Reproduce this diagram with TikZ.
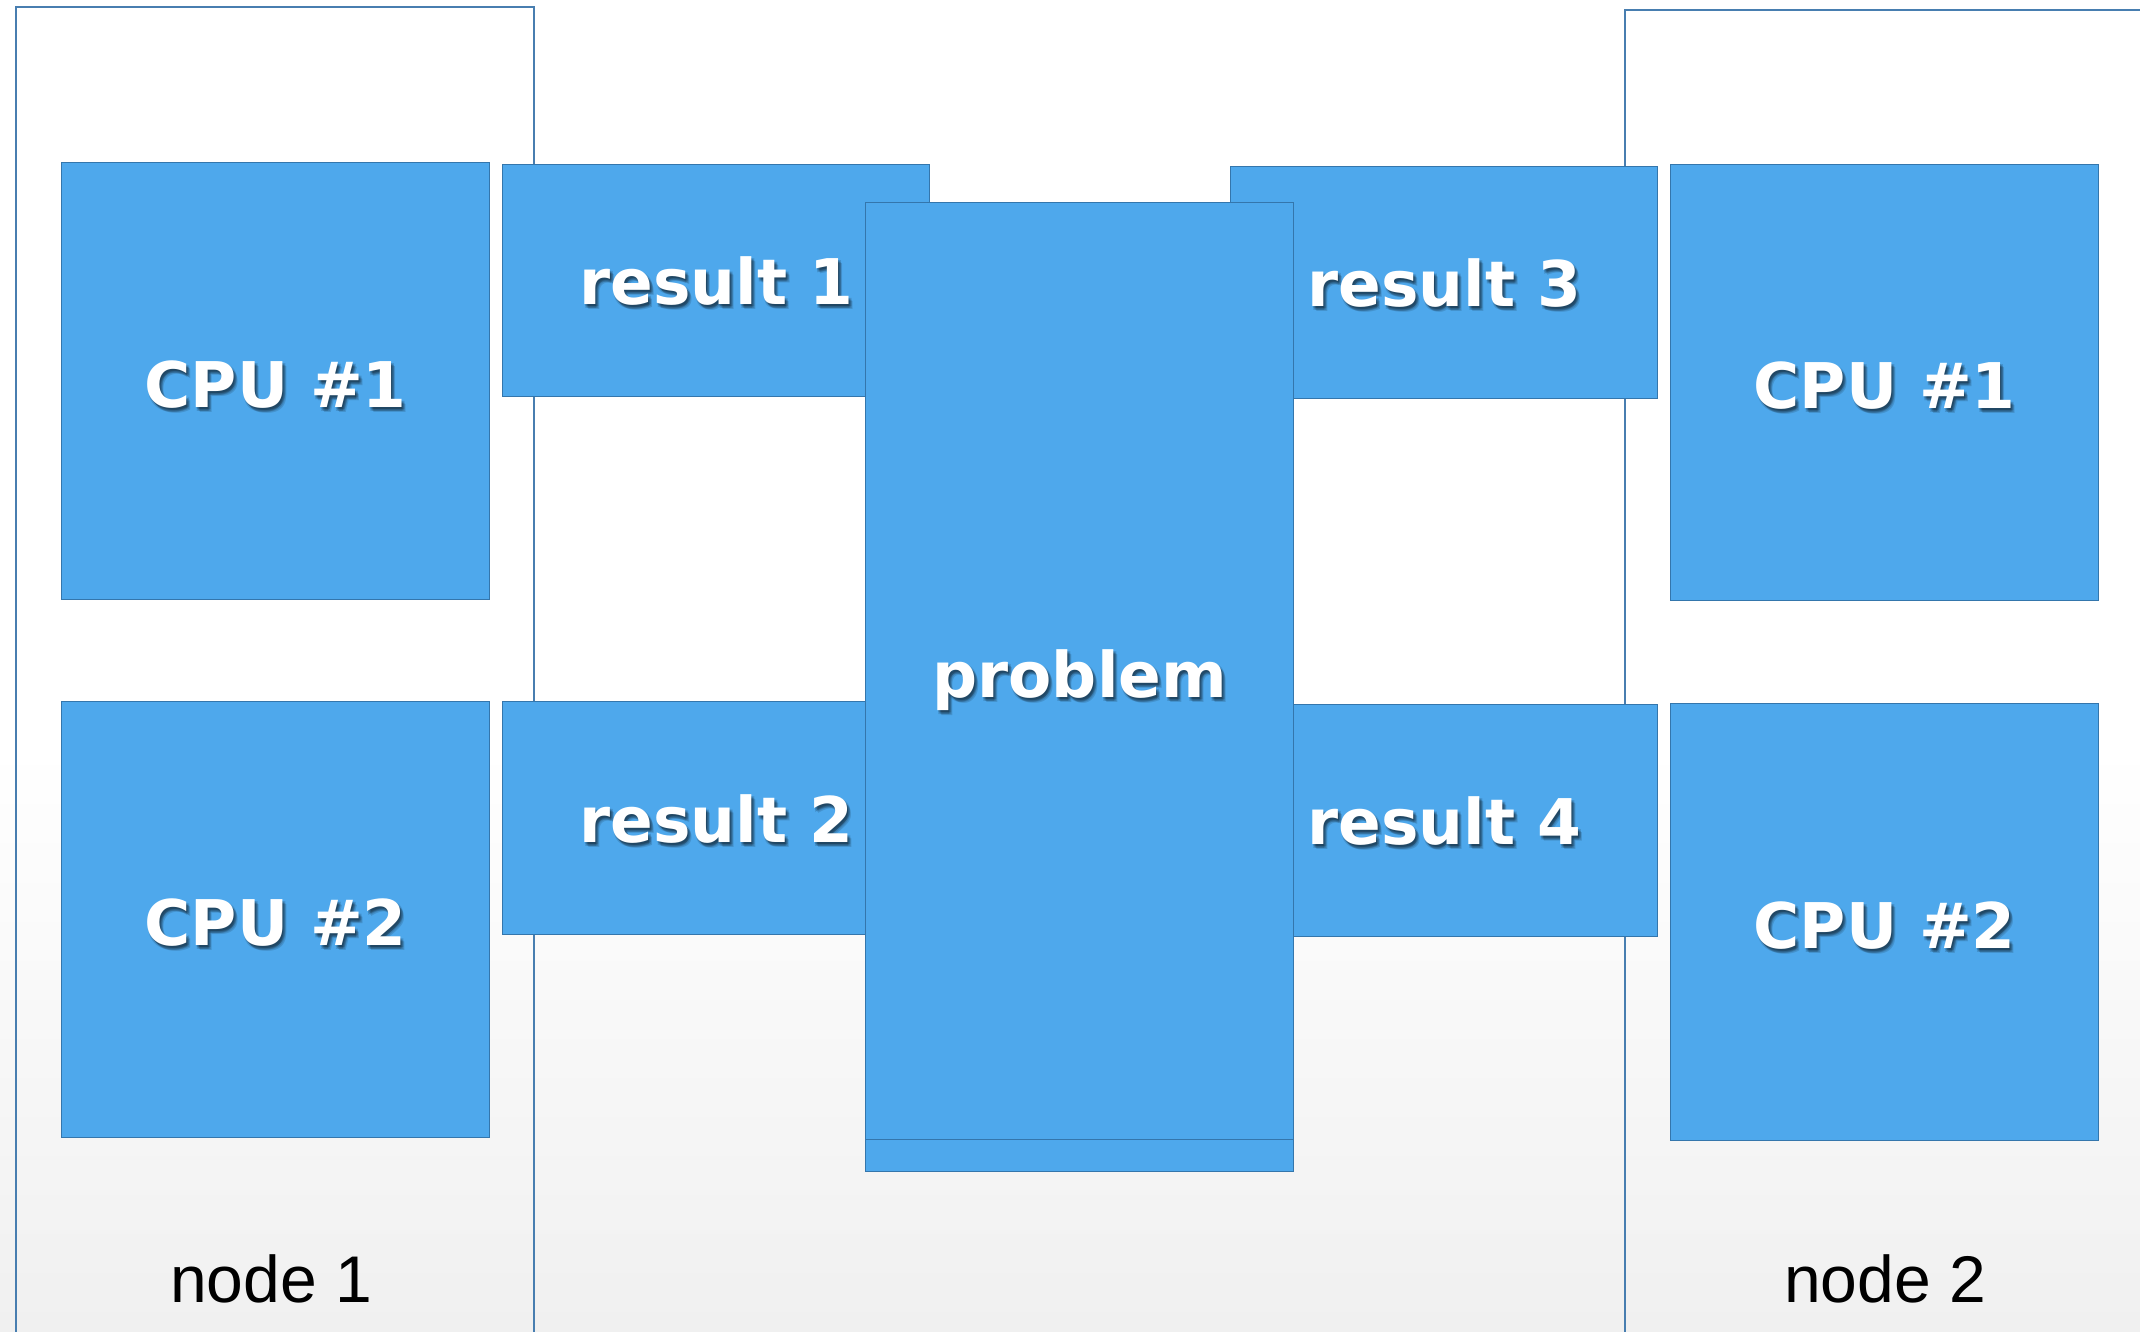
\documentclass[tikz,border=0pt]{standalone}
\usepackage{fontspec}
\setmainfont{DejaVu Sans}
\newfontfamily\lightfont{Liberation Sans}
\definecolor{boxblue}{RGB}{78,168,236}
\definecolor{boxedge}{RGB}{52,118,172}
\definecolor{frameedge}{RGB}{72,126,176}
\definecolor{bggray}{RGB}{240,240,240}
\pgfdeclareverticalshading{bgshade}{100bp}{color(0bp)=(bggray); color(25bp)=(bggray); color(47bp)=(white); color(100bp)=(white)}
\tikzset{
  box/.style={draw=boxedge, fill=boxblue, line width=1.4pt, inner sep=0pt, anchor=north west},
  frame/.style={draw=frameedge, line width=1.4pt},
  txt/.style={text=white, font=\bfseries\fontsize{63}{70}\selectfont, inner sep=0pt, anchor=base},
  shd/.style={text=black, opacity=0.13, font=\bfseries\fontsize{63}{70}\selectfont, inner sep=0pt, anchor=base},
  nodelbl/.style={text=black, font=\lightfont\fontsize{66}{72}\selectfont, inner sep=0pt, anchor=base}
}
\newcommand{\bx}[5]{% name, x1, y1, x2, y2
  \node[box, minimum width={#4-#2}, minimum height={#5-#3}] (#1) at (#2,-#3) {};
}
\newcommand{\lbl}[3]{% node, text, baseline offset below centre
  \foreach \dx/\dy in {1/-2,2/-3,3/-4,3/-2,1/-4,4/-5}{
    \node[shd] at ([shift={(\dx pt,\dy pt-#3 pt)}]#1.center) {#2};
  }
  \node[txt] at ([yshift=-#3 pt]#1.center) {#2};
}
\begin{document}
\begin{tikzpicture}[x=1pt,y=1pt]
\useasboundingbox (0,0) rectangle (2140,-1331);
\shade[shading=bgshade] (0,0) rectangle (2140,-1331);
% frames
\draw[frame] (16,-1345) -- (16,-7) -- (534,-7) -- (534,-1345);
\draw[frame] (1625,-1345) -- (1625,-10) -- (2150,-10);
% CPUs
\bx{cpuLa}{61}{162}{489}{599}
\bx{cpuLb}{61}{701}{489}{1137}
\bx{cpuRa}{1670}{164}{2098}{600}
\bx{cpuRb}{1670}{703}{2098}{1140}
\lbl{cpuLa}{CPU \#1}{26}
\lbl{cpuLb}{CPU \#2}{26}
\lbl{cpuRa}{CPU \#1}{26}
\lbl{cpuRb}{CPU \#2}{26}
% results
\bx{resa}{502}{164}{929}{396}
\bx{resb}{502}{701}{929}{934}
\bx{resc}{1230}{166}{1657}{398}
\bx{resd}{1230}{704}{1657}{936}
\lbl{resa}{result 1}{24}
\lbl{resb}{result 2}{24}
\lbl{resc}{result 3}{24}
\lbl{resd}{result 4}{24}
% problem
\bx{probback}{865}{447}{1293}{1171}
\bx{prob}{865}{202}{1293}{1139}
\lbl{prob}{problem}{26}
% node labels
\node[nodelbl] (n1) at (271,-1302) {node 1};
\node[nodelbl] (n2) at (1885,-1302) {node 2};
\end{tikzpicture}
\end{document}
